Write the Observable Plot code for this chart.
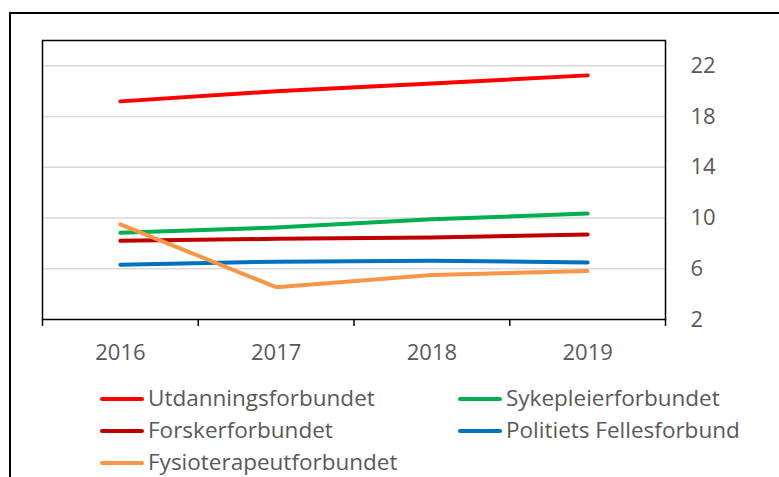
<!DOCTYPE html>
<html>
<head>
<meta charset="utf-8">
<script src="https://cdn.jsdelivr.net/npm/d3@7"></script>
<script src="https://cdn.jsdelivr.net/npm/@observablehq/plot@0.6"></script>
<style>
  html, body { margin: 0; padding: 0; background: #fff; overflow: hidden; width: 779px; height: 477px; }
  #outer { position: absolute; left: 9px; top: 12px; width: 900px; height: 600px; border: 2px solid #000; box-sizing: border-box; }
  #chart { position: absolute; left: 0; top: 0; }
  .leg { position: absolute; font-family: "Open Sans", sans-serif; font-size: 22.5px; color: #595959; white-space: nowrap; line-height: 1; }
  .sw { position: absolute; height: 4px; border-radius: 2px; }
</style>
</head>
<body>
<div id="outer"></div>
<div id="chart"></div>
<div id="legend"></div>
<script>
const years = [2016, 2017, 2018, 2019];
const seriesNames = ["Utdanningsforbundet", "Sykepleierforbundet", "Forskerforbundet", "Politiets Fellesforbund", "Fysioterapeutforbundet"];
const seriesColors = ["#ff0000", "#00b050", "#c00000", "#0070c0", "#f79646"];
const utdanning = [19.2, 20.0, 20.6, 21.25];
const sykepleier = [8.85, 9.25, 9.9, 10.35];
const forsker = [8.2, 8.36, 8.47, 8.7];
const politiet = [6.32, 6.56, 6.64, 6.5];
const fysio = [9.5, 4.55, 5.5, 5.83];
const yTicks = [2, 6, 10, 14, 18, 22];

const values = [utdanning, sykepleier, forsker, politiet, fysio];
const data = [];
seriesNames.forEach((name, i) => years.forEach((yr, j) => data.push({series: name, year: yr, value: values[i][j]})));
const boundaries = years.map(y => y - 0.5).concat([years[years.length - 1] + 0.5]);

const plot = Plot.plot({
  width: 779,
  height: 370,
  marginLeft: 42,
  marginRight: 114,
  marginTop: 40,
  marginBottom: 51,
  style: {fontFamily: "'Open Sans', sans-serif", color: "#595959", background: "transparent", overflow: "visible"},
  x: {domain: [boundaries[0], boundaries[boundaries.length - 1]]},
  y: {domain: [2, 24]},
  color: {domain: seriesNames, range: seriesColors},
  marks: [
    Plot.ruleY(yTicks.filter(t => t > 2), {stroke: "#d9d9d9", strokeWidth: 1.5}),
    Plot.axisY(yTicks, {anchor: "right", tickSize: 0, tickPadding: 25, fontSize: 22, fill: "#595959", label: null}),
    Plot.axisX(years, {anchor: "bottom", tickSize: 0, tickPadding: 25, fontSize: 22, fill: "#595959", tickFormat: d => String(d), label: null}),
    Plot.axisX(boundaries, {anchor: "bottom", tickSize: 7, stroke: "#000", strokeWidth: 1.5, tickFormat: () => "", label: null}),
    Plot.line(data, {x: "year", y: "value", z: "series", stroke: "series", strokeWidth: 4, strokeLinecap: "round", strokeLinejoin: "round"}),
    Plot.frame({stroke: "#000", strokeWidth: 1.5})
  ]
});
document.getElementById("chart").appendChild(plot);

// Legend
const legend = document.getElementById("legend");
const legPos = [
  {sx: 100, tx: 148, y: 399},
  {sx: 458, tx: 506, y: 399},
  {sx: 100, tx: 148, y: 431},
  {sx: 458, tx: 506, y: 431},
  {sx: 100, tx: 148, y: 463}
];
seriesNames.forEach((name, i) => {
  const p = legPos[i];
  const sw = document.createElement("div");
  sw.className = "sw";
  sw.style.left = p.sx + "px";
  sw.style.top = (p.y - 2) + "px";
  sw.style.width = "44px";
  sw.style.background = seriesColors[i];
  legend.appendChild(sw);
  const t = document.createElement("div");
  t.className = "leg";
  t.style.left = p.tx + "px";
  t.style.top = (p.y - 12) + "px";
  t.textContent = name;
  legend.appendChild(t);
});
</script>
</body>
</html>
